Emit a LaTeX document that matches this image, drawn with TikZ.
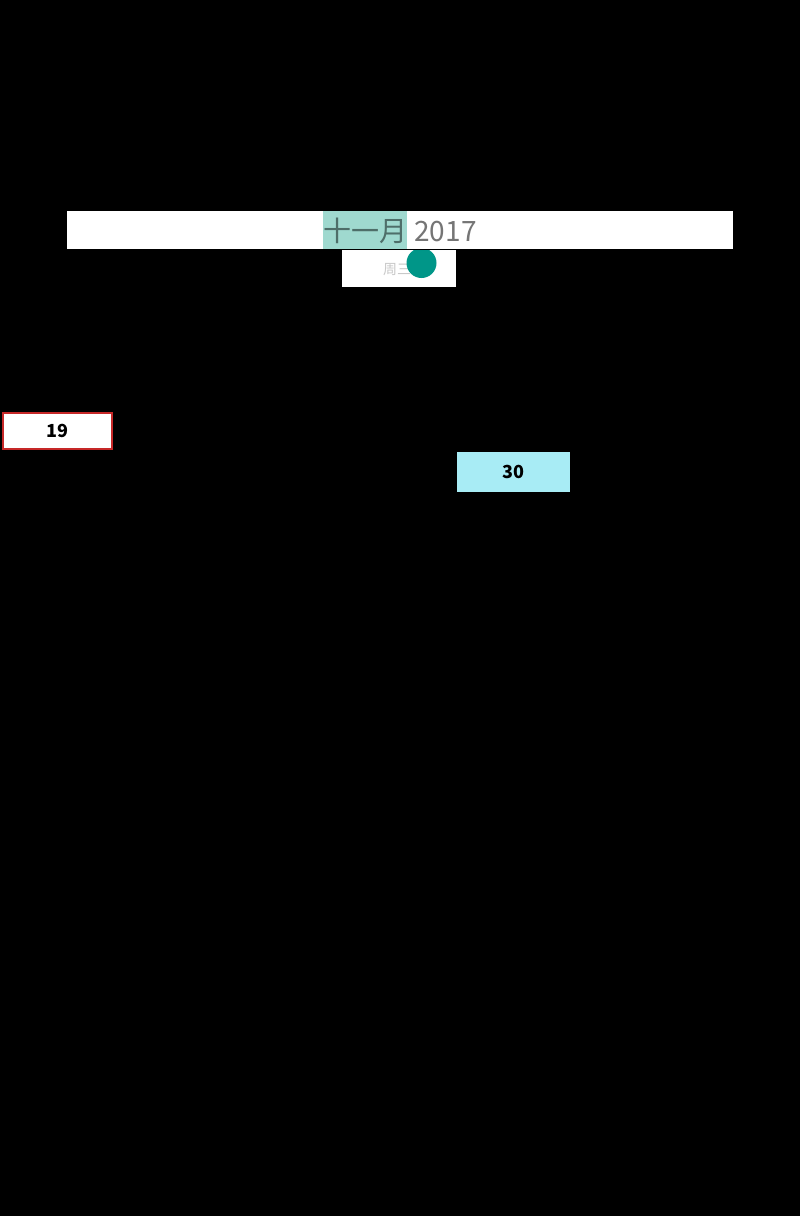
\documentclass[tikz,border=0pt]{standalone}
\usepackage{fontspec}
\setmainfont{Noto Sans CJK SC}
\usepackage{xcolor}
\usetikzlibrary{positioning}
\definecolor{monthbg}{HTML}{9FD9CF}
\definecolor{monthtxt}{HTML}{4E6E69}
\definecolor{yeartxt}{HTML}{757575}
\definecolor{daytxt}{HTML}{C8C8C8}
\definecolor{dotteal}{HTML}{009688}
\definecolor{marked}{HTML}{C62828}
\definecolor{picked}{HTML}{A8ECF5}
\tikzset{%
	bar/.style     = {fill=white, draw=none},
	monthcell/.style = {fill=monthbg, inner sep=0pt, minimum width=84pt, minimum height=38pt, text=monthtxt, font=\fontsize{28}{28}\selectfont},
	yearcell/.style  = {inner sep=0pt, text=yeartxt, font=\fontsize{28}{28}\selectfont},
	daycell/.style   = {draw=marked, line width=2.5pt, fill=white, minimum width=109pt, minimum height=36pt, inner sep=0pt, font=\fontsize{18}{18}\selectfont\bfseries},
	pickcell/.style  = {fill=picked, minimum width=113pt, minimum height=40pt, inner sep=0pt, font=\fontsize{18}{18}\selectfont\bfseries},
}
\begin{document}
\begin{tikzpicture}[x=1pt,y=-1pt]
		% background
		\fill[black] (0,0) rectangle (800,1216);
		\useasboundingbox (0,0) rectangle (800,1216);
		
		% header
		\fill[bar] (67,211) rectangle (733,249);
		\node[monthcell, text depth=-2pt] (month) at (365,230) {十一月};
		\node[yearcell, right=7pt of month, yshift=-2pt] (year) {2017};
		
		% weekday box
		\fill[bar] (342,250) rectangle (456,287);
		\node[text=daytxt, font=\fontsize{14}{14}\selectfont, inner sep=0pt] (weekday) at (397,270) {周三};
		\begin{scope}
			\clip (342,250) rectangle (456,287);
			\fill[dotteal] (421.5,263) circle (15);
		\end{scope}
		
		% day cells
		\node[daycell] (day19) at (57.5,431) {\raisebox{-1pt}{19}};
		\node[pickcell] (day30) at (513.5,472) {\raisebox{-1pt}{30}};
		
\end{tikzpicture}
\end{document}
